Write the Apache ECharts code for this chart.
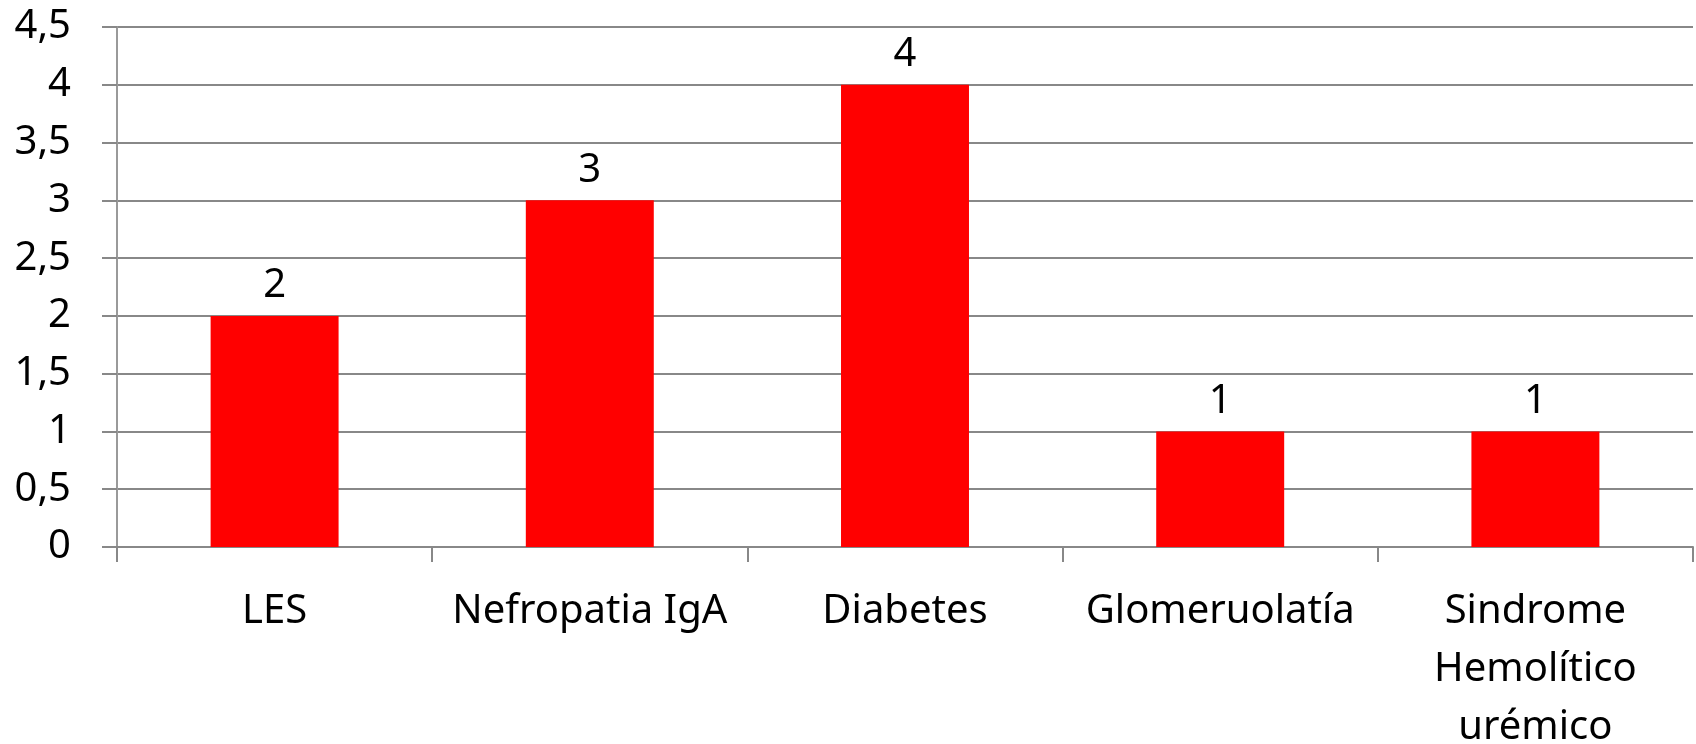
<!DOCTYPE html>
<html><head><meta charset="utf-8">
<script src="https://cdn.jsdelivr.net/npm/echarts@6/dist/echarts.min.js"></script>
<style>html,body{margin:0;padding:0;background:#fff}#c{width:1696px;height:744px}</style>
</head><body><div id="c"></div>
<script>
const categories = ['LES', 'Nefropatia IgA', 'Diabetes', 'Glomeruolatía', 'Sindrome\nHemolítico\nurémico'];
const values = [2, 3, 4, 1, 1];
const yMin = 0, yMax = 4.5, yStep = 0.5;

const FONT = 'Noto Sans';
const chart = echarts.init(document.getElementById('c'), null, {renderer: 'canvas'});
chart.setOption({
  animation: false,
  backgroundColor: '#ffffff',
  grid: {left: 117, right: 3, top: 27, bottom: 197, containLabel: false, outerBoundsMode: 'none'},
  xAxis: {
    type: 'category',
    data: categories,
    axisLine: {show: true, lineStyle: {color: '#888888', width: 2}},
    axisTick: {show: true, length: 15, lineStyle: {color: '#888888', width: 2}},
    axisLabel: {color: '#000', fontFamily: FONT, fontSize: 40, margin: 36, lineHeight: 58, interval: 0}
  },
  yAxis: {
    type: 'value',
    min: yMin, max: yMax, interval: yStep,
    axisLine: {show: true, lineStyle: {color: '#9a9a9a', width: 2}},
    axisTick: {show: true, length: 15, lineStyle: {color: '#888888', width: 2}},
    splitLine: {show: true, lineStyle: {color: '#888888', width: 2}},
    axisLabel: {color: '#000', fontFamily: FONT, fontSize: 40, margin: 46,
      formatter: v => String(v).replace('.', ',')}
  },
  series: [{
    type: 'bar',
    data: values,
    barWidth: '40.6%',
    itemStyle: {color: '#ff0000'},
    label: {show: true, position: 'top', distance: 10, color: '#000', fontFamily: FONT, fontSize: 40}
  }]
});
</script></body></html>
